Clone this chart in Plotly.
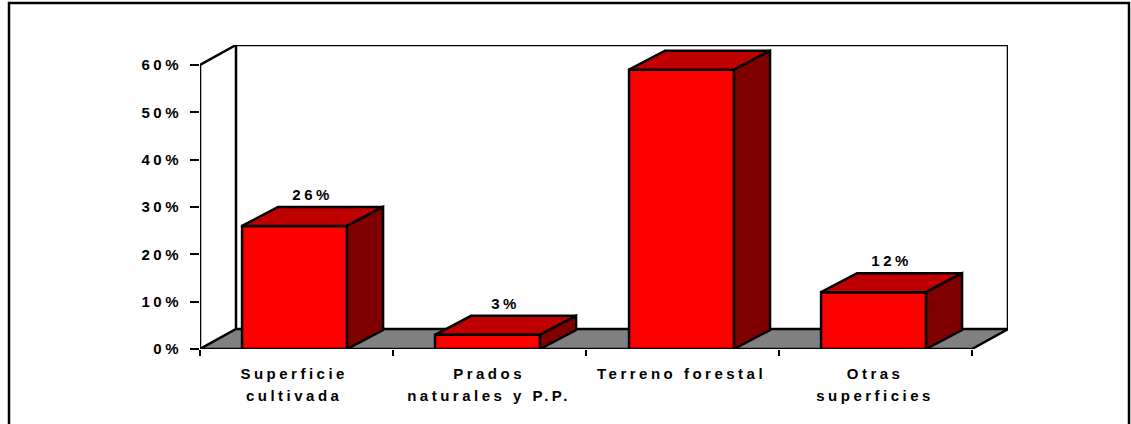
import plotly.graph_objects as go

categories = ["Superficie<br>cultivada", "Prados<br>naturales y P.P.", "Terreno forestal", "Otras<br>superficies"]
values = [26, 3, 59, 12]
y_ticks = [0, 10, 20, 30, 40, 50, 60]
y_tick_labels = ["0%", "10%", "20%", "30%", "40%", "50%", "60%"]
label_pos = [0.488, 1.498, 2.495, 3.498]
bar_pos = [0.49, 1.49, 2.495, 3.49]
boundaries = [0, 1, 2, 3, 4]

W, H = 1131, 424
X0, X1, Y0, Y1 = 200, 1008, 349, 45
PX_X = 193.0
PX_Y = 284 / 60
BAR_W = 105 / PX_X
DX = 36 / PX_X
DY_WALL = 20 / PX_Y
DY_BAR = 19 / PX_Y
LABEL_UP = 30 / PX_Y
N = 4
TOP = 60
RED, TOPC, SIDE, FLOOR = "#FF0000", "#BF0000", "#800000", "#808080"
font = dict(family="Liberation Sans, Arial, sans-serif", size=15, color="black", weight=700)
line = dict(color="black", width=2.5)


def poly(pts, fill=None, layer="below", close=True):
    d = "M " + " L ".join(f"{x},{y}" for x, y in pts) + (" Z" if close else "")
    return dict(type="path", path=d, xref="x", yref="y", layer=layer, line=line,
                fillcolor=fill if fill else "rgba(0,0,0,0)")


shapes = [
    poly([(0, 0), (N, 0), (N + DX, DY_WALL), (DX, DY_WALL)], FLOOR),
    poly([(DX, DY_WALL), (DX, TOP + DY_WALL), (N + DX, TOP + DY_WALL), (N + DX, DY_WALL)], None, close=False),
    poly([(0, 0), (0, TOP), (DX, TOP + DY_WALL)], None, close=False),
    dict(type="path", path=f"M {9/W},0 L {9/W},{1-3/H} L {1129/W},{1-3/H} L {1129/W},0",
         xref="paper", yref="paper", layer="below", line=line),
]

fig = go.Figure()
fig.add_trace(go.Bar(x=bar_pos, y=values, width=BAR_W, marker=dict(color=RED, line=line),
                     hoverinfo="skip", showlegend=False))
for c, v in zip(bar_pos, values):
    l, r = c - BAR_W / 2, c + BAR_W / 2
    fig.add_trace(go.Scatter(x=[l, r, r + DX, l + DX, l], y=[v, v, v + DY_BAR, v + DY_BAR, v],
                             mode="lines", fill="toself", fillcolor=TOPC, line=line,
                             hoverinfo="skip", showlegend=False))
    fig.add_trace(go.Scatter(x=[r, r + DX, r + DX, r, r], y=[0, DY_BAR, v + DY_BAR, v, 0],
                             mode="lines", fill="toself", fillcolor=SIDE, line=line,
                             hoverinfo="skip", showlegend=False))
fig.add_trace(go.Scatter(x=[c + DX / 2 for c in bar_pos], y=[v + LABEL_UP for v in values],
                         mode="text", text=[f"{v}%" for v in values], textposition="middle center",
                         textfont=font, cliponaxis=False, hoverinfo="skip", showlegend=False))

fig.update_layout(
    width=W, height=H, autosize=False, margin=dict(l=0, r=0, t=0, b=0, pad=0, autoexpand=False),
    paper_bgcolor="white", plot_bgcolor="rgba(0,0,0,0)", shapes=shapes, showlegend=False,
    xaxis=dict(domain=[X0 / W, X1 / W], range=[0, (X1 - X0) / PX_X], showgrid=False, zeroline=False,
               showline=False, tickmode="array", tickvals=label_pos, ticktext=categories, ticks="",
               ticklabelstandoff=14, tickfont=font, tickangle=0, automargin=False,
               minor=dict(tickmode="array", tickvals=boundaries, ticks="outside", ticklen=6,
                          tickwidth=2, tickcolor="black", showgrid=False)),
    yaxis=dict(domain=[(H - Y0) / H, (H - Y1) / H], range=[0, (Y0 - Y1) / PX_Y], showgrid=False,
               zeroline=False, showline=False, tickmode="array", tickvals=y_ticks, ticktext=y_tick_labels,
               ticks="outside", ticklen=9, tickwidth=2, tickcolor="black", tickfont=font, automargin=False,
               ticklabelstandoff=5),
)

post = """
document.body.style.margin = '0';
var gd = document.getElementById('{plot_id}');
function styleText() {
  gd.querySelectorAll('svg text').forEach(function (t) { t.style.letterSpacing = '3.5px'; });
  gd.querySelectorAll('.xtick text tspan.line').forEach(function (s) {
    if (parseFloat(s.getAttribute('dy')) > 0) { s.setAttribute('dy', '21.5px'); }
  });
}
styleText();
gd.on('plotly_afterplot', styleText);
"""
fig.write_html("out.html", post_script=post, config={"displayModeBar": False, "staticPlot": True})
